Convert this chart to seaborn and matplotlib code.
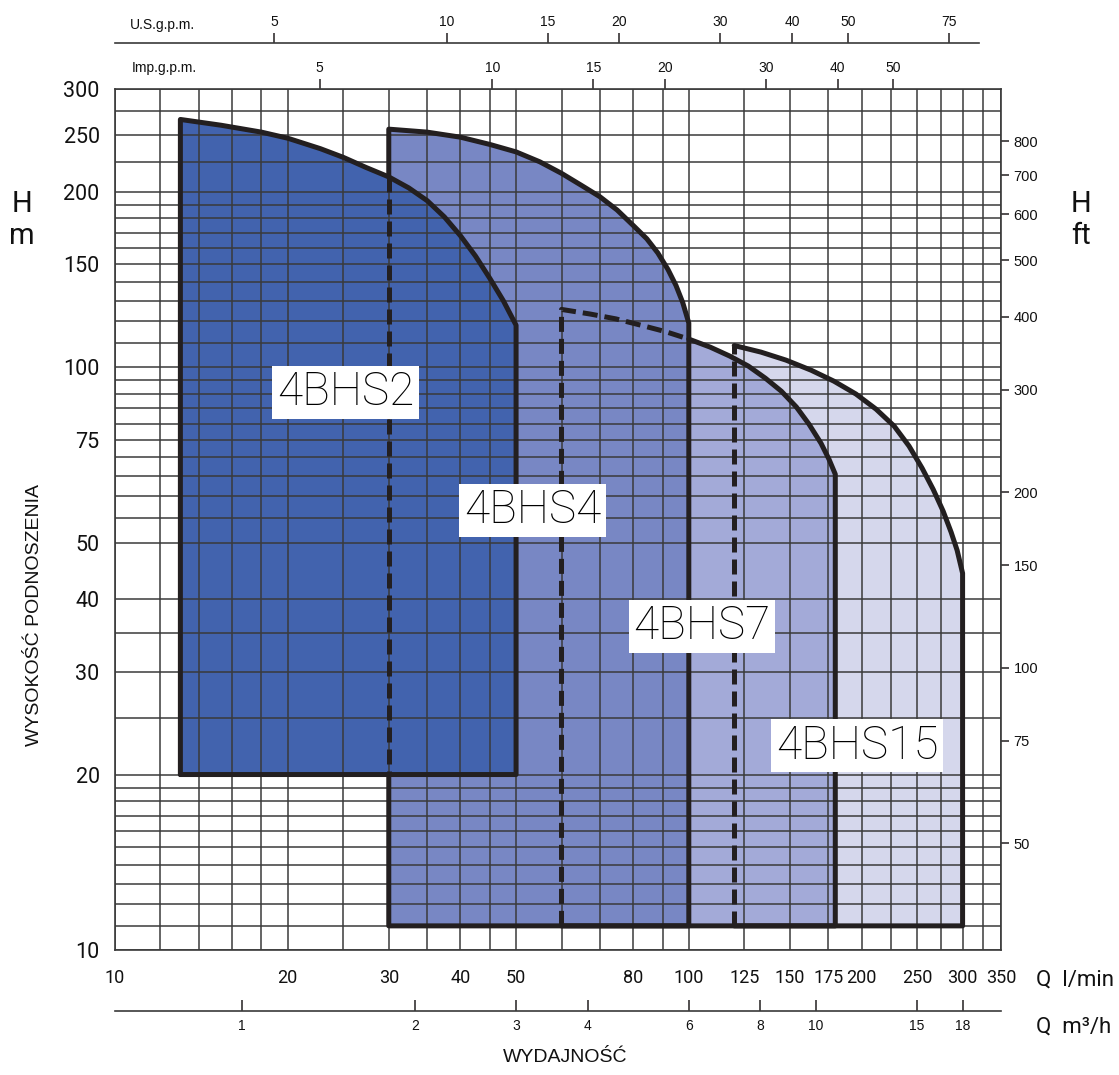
import numpy as np
import pandas as pd
import matplotlib
matplotlib.use('Agg')
import matplotlib.pyplot as plt
import seaborn as sns

# grid lines of the chart (Q in l/min, H in m)
x_grid = [10, 12, 14, 16, 18, 20, 25, 30, 35, 40, 45, 50, 60, 70, 80, 90, 100,
          125, 150, 175, 200, 225, 250, 275, 300, 325, 350]
y_grid = [10, 11, 12, 13, 14, 15, 16, 17, 18, 19, 20, 25, 30, 35, 40, 50, 55,
          60, 65, 70, 75, 80, 85, 90, 95, 100, 110, 120, 130, 140, 150, 160,
          170, 180, 190, 200, 225, 250, 275, 300]

x_ticks = [10, 20, 30, 40, 50, 80, 100, 125, 150, 175, 200, 250, 300, 350]
y_ticks = [10, 20, 30, 40, 50, 75, 100, 150, 200, 250, 300]
ft_ticks = [50, 75, 100, 150, 200, 300, 400, 500, 600, 700, 800]
m3h_ticks = [1, 2, 3, 4, 6, 8, 10, 15, 18]
usgpm_ticks = [5, 10, 15, 20, 30, 40, 50, 75]
impgpm_ticks = [5, 10, 15, 20, 30, 40, 50]

# pump fields: Q [l/min], H [m]
q_bhs2 = [13, 15.3, 18, 20, 22.8, 25, 27.4, 30, 32.5, 35, 37.5, 40, 42.5, 45, 47.5, 50]
h_bhs2 = [266, 260, 253, 247, 237, 229, 220, 212, 203, 193, 181, 168, 155, 142, 130, 118]
q_bhs4 = [30, 35, 40, 45, 50, 55, 60, 65, 70, 75, 80, 84.5, 88.3, 92, 95, 97.6, 100]
h_bhs4 = [256, 253, 248, 241, 234, 225, 215, 205, 196, 186, 175, 166, 157, 147, 138, 129, 119]
q_bhs7 = [60, 67.4, 74.6, 82.5, 91.2, 100, 109, 118, 127, 136, 145, 154, 162, 170, 175.5, 180]
h_bhs7 = [125.6, 123.3, 121, 118, 115, 111.7, 108.2, 104.4, 100.4, 95.7, 90.9, 85.4, 79.8, 74, 69.5, 65.5]
q_bhs15 = [120, 133.6, 147.7, 163.3, 179, 195.6, 212, 228, 242, 255, 266.6, 277.5, 286.5, 293.5, 300]
h_bhs15 = [108.9, 106.1, 102.8, 98.8, 94.6, 89.9, 84.7, 79.2, 73.2, 67.1, 61.7, 56.6, 52.1, 48.5, 44.3]
h_min_bhs2 = 20
h_min = 11

US_GAL = 3.785
IMP_GAL = 4.546
M3H = 1000 / 60
FT = 0.3048

sns.set_style('white')
thin = ['Roboto', 'DejaVu Sans']
plt.rcParams['font.family'] = thin
plt.rcParams['text.color'] = '#111111'

W, H = 1119, 1075
fig = plt.figure(figsize=(W / 100, H / 100), dpi=100)
ax = fig.add_axes([115 / W, 1 - 950 / H, 886 / W, 861 / H])
ax.set_xscale('log')
ax.set_yscale('log')
ax.set_xlim(10, 350)
ax.set_ylim(10, 300)

line_c = '#231f20'
grid_c = '#3a3a3a'
dash = (0, (3, 1.4))

# fills, back to front
ax.fill_between(q_bhs15, h_min, h_bhs15, color='#d5d7ec', lw=0, zorder=1)
ax.fill_between(q_bhs7, h_min, h_bhs7, color='#a3aad8', lw=0, zorder=1)
ax.fill_between(q_bhs4, h_min, h_bhs4, color='#7887c4', lw=0, zorder=1)
ax.fill_between(q_bhs2, h_min_bhs2, h_bhs2, color='#4263ae', lw=0, zorder=1)

for x in x_grid:
    ax.axvline(x, color=grid_c, lw=1.1, zorder=2)
for y in y_grid:
    ax.axhline(y, color=grid_c, lw=1.1, zorder=2)


def outline(xs, ys, dashed=False):
    df = pd.DataFrame({'Q': xs, 'H': ys})
    sns.lineplot(data=df, x='Q', y='H', ax=ax, estimator=None, sort=False,
                 color=line_c, lw=3.6, linestyle=dash if dashed else '-',
                 zorder=4, solid_joinstyle='round')


# 4BHS2
outline([q_bhs2[0]] + q_bhs2 + [q_bhs2[-1], q_bhs2[0]],
        [h_min_bhs2] + h_bhs2 + [h_min_bhs2, h_min_bhs2])

# 4BHS4
h_cross = np.interp(q_bhs4[0], q_bhs2, h_bhs2)
outline([q_bhs4[0], q_bhs4[0], q_bhs4[-1]] + q_bhs4[::-1] + [q_bhs4[0]],
        [h_min_bhs2, h_min, h_min] + h_bhs4[::-1] + [h_cross])
outline([q_bhs4[0], q_bhs4[0]], [h_cross, h_min_bhs2], dashed=True)

# 4BHS7
q7 = np.array(q_bhs7)
h7 = np.array(h_bhs7)
hidden = q7 <= q_bhs4[-1]
shown = q7 >= q_bhs4[-1]
outline([q_bhs7[0]] + list(q7[hidden]), [h_min] + list(h7[hidden]), dashed=True)
outline(list(q7[shown]) + [q_bhs7[-1], q_bhs7[0]],
        list(h7[shown]) + [h_min, h_min])

# 4BHS15
outline([q_bhs15[0], q_bhs15[0]], [h_min, h_bhs15[0]], dashed=True)
outline(q_bhs15 + [q_bhs15[-1], q_bhs15[0]], h_bhs15 + [h_min, h_min])

ax.set_xlabel('')
ax.set_ylabel('')

labels = {'4BHS2': (25.2, 90.6), '4BHS4': (53.4, 56.8),
          '4BHS7': (105.4, 35.9), '4BHS15': (196.5, 22.4)}
for name, (qx, hy) in labels.items():
    ax.text(qx, hy, name, ha='center', va='center', fontsize=33,
            fontweight='light', color='#000000', zorder=6,
            bbox=dict(boxstyle='square,pad=0.1', fc='white', ec='none'))

# main axes ticks
ax.set_xticks(x_ticks, labels=[str(v) for v in x_ticks])
ax.set_yticks(y_ticks, labels=[str(v) for v in y_ticks])
ax.xaxis.set_minor_locator(matplotlib.ticker.NullLocator())
ax.yaxis.set_minor_locator(matplotlib.ticker.NullLocator())
ax.tick_params(axis='both', which='major', direction='out', length=7,
               width=1.1, color=line_c, labelcolor='#111111', labelsize=13, pad=4)
ax.tick_params(axis='x', pad=7)
ax.tick_params(axis='y', labelsize=15.5)
for sp in ax.spines.values():
    sp.set_visible(True)
    sp.set_color(grid_c)
    sp.set_linewidth(1.2)
ax.set_axisbelow(False)

small = ['Liberation Sans', 'DejaVu Sans']

# right: feet
ax_ft = ax.secondary_yaxis('right', functions=(lambda m: m / FT, lambda f: f * FT))
ax_ft.set_yticks(ft_ticks, labels=[str(v) for v in ft_ticks])
ax_ft.yaxis.set_minor_locator(matplotlib.ticker.NullLocator())
ax_ft.tick_params(direction='out', length=6, width=1.1, color=line_c,
                  labelcolor='#111111', labelsize=10.5, pad=3)
for lab in ax_ft.get_yticklabels():
    lab.set_family(small)
ax_ft.spines['right'].set_visible(False)

# top: Imp gpm on the frame
ax_imp = ax.secondary_xaxis('top', functions=(lambda q: q / IMP_GAL, lambda g: g * IMP_GAL))
ax_imp.set_xticks(impgpm_ticks, labels=[str(v) for v in impgpm_ticks])
ax_imp.xaxis.set_minor_locator(matplotlib.ticker.NullLocator())
ax_imp.tick_params(direction='out', length=7, width=1.1, color=line_c,
                   labelcolor='#111111', labelsize=10, pad=3)
ax_imp.spines['top'].set_visible(False)

# top: US gpm line
ax_us = ax.secondary_xaxis(1 + 46 / 861, functions=(lambda q: q / US_GAL, lambda g: g * US_GAL))
ax_us.set_xticks(usgpm_ticks, labels=[str(v) for v in usgpm_ticks])
ax_us.xaxis.set_minor_locator(matplotlib.ticker.NullLocator())
ax_us.tick_params(direction='out', length=7, width=1.1, color=line_c,
                  labelcolor='#111111', labelsize=10, pad=3)
ax_us.spines['top'].set_bounds(10 / US_GAL, 320 / US_GAL)
ax_us.spines['top'].set_linewidth(1.2)
ax_us.spines['top'].set_color(grid_c)

# bottom: m3/h line
ax_m3 = ax.secondary_xaxis(-61 / 861, functions=(lambda q: q / M3H, lambda v: v * M3H))
ax_m3.set_xticks(m3h_ticks, labels=[str(v) for v in m3h_ticks])
ax_m3.xaxis.set_minor_locator(matplotlib.ticker.NullLocator())
ax_m3.tick_params(direction='in', length=8, width=1.1, color=line_c,
                  labelcolor='#111111', labelsize=10, pad=6)
ax_m3.spines['bottom'].set_linewidth(1.2)
ax_m3.spines['bottom'].set_color(grid_c)

for a in (ax_imp, ax_us, ax_m3):
    for lab in a.get_xticklabels():
        lab.set_family(small)

# axis titles
fig.text(130 / W, 1 - 25 / H, 'U.S.g.p.m.', family=small, fontsize=10, va='center')
fig.text(132 / W, 1 - 68 / H, 'Imp.g.p.m.', family=small, fontsize=10, va='center')
fig.text(22 / W, 1 - 220 / H, 'H\nm', fontsize=21,
         ha='center', va='center', linespacing=1.15)
fig.text(1081 / W, 1 - 220 / H, 'H\nft', fontsize=21,
         ha='center', va='center', linespacing=1.15)
fig.text(35 / W, 1 - 615 / H, 'WYSOKOŚĆ PODNOSZENIA', family=small, fontsize=14,
         rotation=90, ha='center', va='center')
fig.text(565 / W, 1 - 1058 / H, 'WYDAJNOŚĆ', family=small, fontsize=14,
         ha='center', va='center')
fig.text(1036 / W, 1 - 980 / H, 'Q  l/min', fontsize=16,
         ha='left', va='center')
fig.text(1036 / W, 1 - 1027 / H, 'Q  m³/h', fontsize=16,
         ha='left', va='center')

fig.savefig('out.png', dpi=100)
